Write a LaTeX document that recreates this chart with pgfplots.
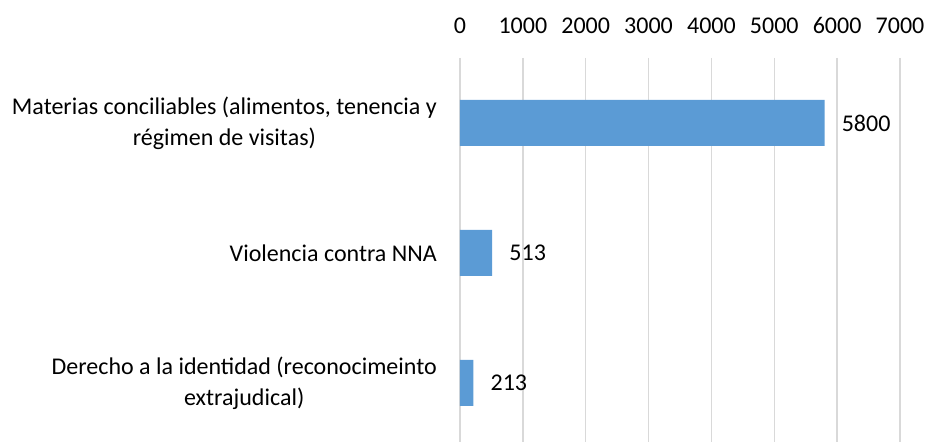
\documentclass[border=0pt]{standalone}
\usepackage{fontspec}
\setmainfont{Carlito}
\usepackage{pgfplots}
\pgfplotsset{compat=1.18}
\definecolor{barblue}{HTML}{5B9BD5}
\definecolor{gridgray}{HTML}{D9D9D9}
\begin{document}
\begin{tikzpicture}[font=\fontsize{24bp}{31bp}\selectfont]
\begin{axis}[
  at={(0,0)}, anchor=south west,
  scale only axis,
  width=440bp, height=384bp,
  xbar, bar width=46bp,
  xmin=0, xmax=7000,
  ymin=0.5, ymax=3.454,
  y dir=reverse,
  xtick={0,1000,...,7000},
  scaled x ticks=false,
  xticklabel pos=upper,
  ytick={1,2,3},
  yticklabels={{Materias conciliables (alimentos, tenencia y\\régimen de visitas)},
               {Violencia contra NNA},
               {Derecho a la identidad (reconocimeinto\\extrajudical)}},
  yticklabel style={align=center, inner sep=0pt, xshift=-23bp},
  xticklabel style={inner sep=0pt, yshift=24bp},
  major tick length=0pt,
  axis line style={draw=none},
  xmajorgrids=true,
  grid style={draw=gridgray, line width=1.5bp},
  /pgf/number format/1000 sep={},
  /pgf/number format/assume math mode=true,
  nodes near coords,
  every node near coord/.append style={anchor=west, inner sep=0pt, xshift=17bp, font=\fontsize{24bp}{29bp}\selectfont},
  clip=false,
]
\addplot[fill=barblue, draw=none] coordinates {(5800,1) (513,2) (213,3)};
\end{axis}
\pgfresetboundingbox
\path[use as bounding box] (-460bp,0bp) rectangle (468bp,442bp);
\end{tikzpicture}
\end{document}
